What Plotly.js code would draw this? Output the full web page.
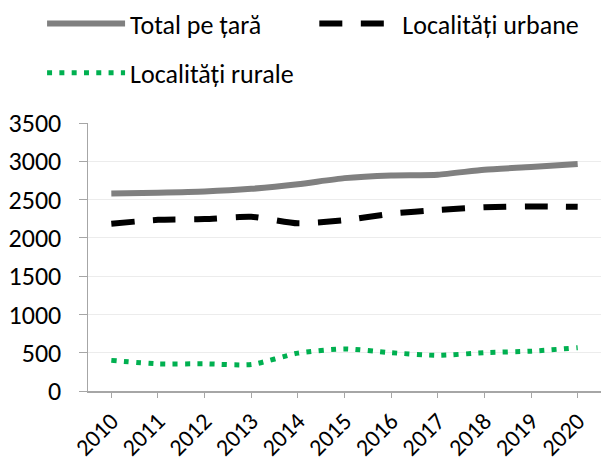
<!DOCTYPE html>
<html><head><meta charset="utf-8">
<script src="https://cdn.plot.ly/plotly-3.0.1.min.js"></script>
<style>html,body{margin:0;padding:0;background:#fff}#chart{width:601px;height:462px}</style>
</head><body><div id="chart"></div>
<script>
const years = ['2010','2011','2012','2013','2014','2015','2016','2017','2018','2019','2020'];
const totalSeries = [2580, 2590, 2605, 2640, 2700, 2780, 2815, 2825, 2890, 2925, 2965];
const urbanSeries = [2185, 2235, 2245, 2275, 2190, 2230, 2315, 2365, 2400, 2410, 2405];
const ruralSeries = [400, 355, 355, 345, 495, 550, 500, 465, 500, 520, 565];
const seriesNames = ['Total pe țară', 'Localități urbane', 'Localități rurale'];
const yTicks = [0, 500, 1000, 1500, 2000, 2500, 3000, 3500];

const font = 'Carlito, Calibri, Lato, "Open Sans", sans-serif';
const traces = [
  {x: years, y: totalSeries, name: seriesNames[0], type: 'scatter', mode: 'lines',
   line: {color: '#808080', width: 6, shape: 'spline', smoothing: 0.6}, legend: 'legend'},
  {x: years, y: urbanSeries, name: seriesNames[1], type: 'scatter', mode: 'lines',
   line: {color: '#000000', width: 6, dash: '23px,18.5px', shape: 'spline', smoothing: 0.6}, legend: 'legend3'},
  {x: years, y: ruralSeries, name: seriesNames[2], type: 'scatter', mode: 'lines',
   line: {color: '#00b050', width: 5, dash: '5px,7.3px', shape: 'spline', smoothing: 0.6}, legend: 'legend2'}
];
const legFont = {family: font, size: 26, color: '#000'};
const legBase = {orientation: 'h', xref: 'container', yref: 'container', xanchor: 'left', yanchor: 'top',
                 itemwidth: 78, font: legFont, bgcolor: 'rgba(0,0,0,0)'};
const layout = {
  width: 601, height: 462,
  margin: {l: 88, r: 0, t: 123, b: 71, pad: 0},
  paper_bgcolor: '#fff', plot_bgcolor: '#fff',
  font: {family: font, size: 26, color: '#000'},
  showlegend: true,
  legend: Object.assign({}, legBase, {x: 0.07, y: 1.0}),
  legend3: Object.assign({}, legBase, {x: 0.523, y: 1.0}),
  legend2: Object.assign({}, legBase, {x: 0.07, y: 0.893}),
  xaxis: {type: 'category', tickvals: years, ticktext: years, tickangle: -45,
          showline: true, linecolor: '#a6a6a6', linewidth: 1.5, ticks: 'outside', ticklen: 5,
          tickcolor: '#a6a6a6', showgrid: false, zeroline: false, range: [-0.5, 10.5],
          tickfont: {family: font, size: 24, color: '#000'}, fixedrange: true},
  yaxis: {range: [0, 3500], tickvals: yTicks, showline: true, linecolor: '#a6a6a6', linewidth: 1.5,
          ticks: 'outside', ticklen: 8, tickcolor: '#a6a6a6', showgrid: true, gridcolor: '#ececec',
          gridwidth: 1, zeroline: false, ticklabelstandoff: 12,
          tickfont: {family: font, size: 26, color: '#000'}, fixedrange: true}
};
Plotly.newPlot('chart', traces, layout, {displayModeBar: false, staticPlot: true});
</script></body></html>
